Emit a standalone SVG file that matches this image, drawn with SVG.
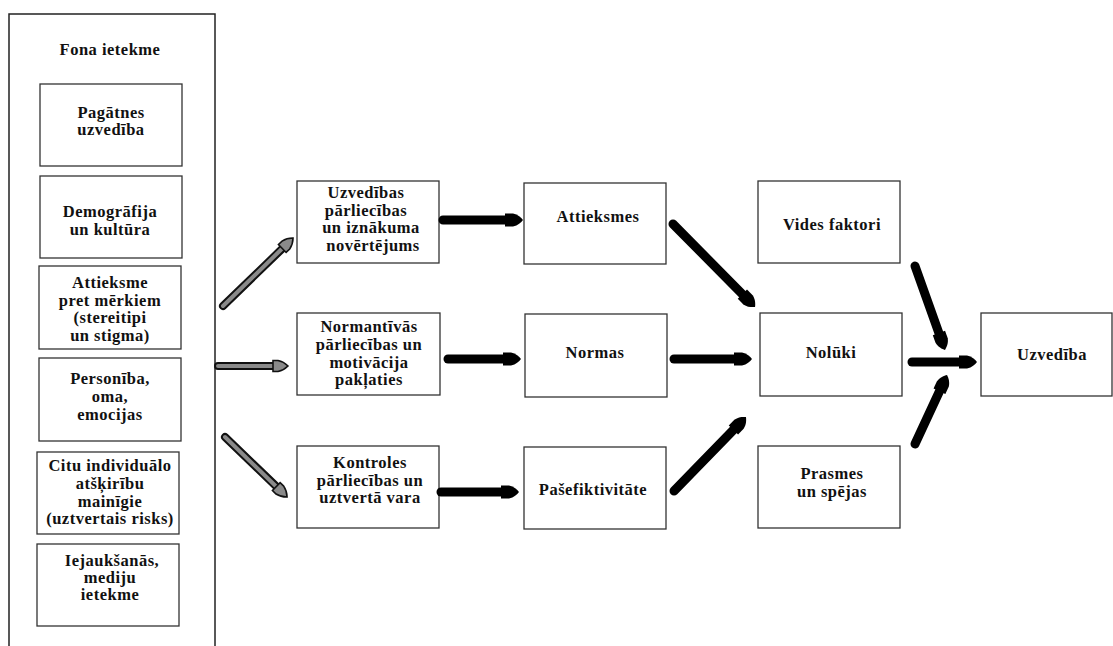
<svg xmlns="http://www.w3.org/2000/svg" width="1113" height="646" viewBox="0 0 1113 646">
<defs>
<style>
.box{fill:#fff;stroke:#333;stroke-width:1.3}
.outer{fill:#fff;stroke:#222;stroke-width:1.5}
.t text{font-size:16.5px;font-weight:bold;fill:#111;text-anchor:middle;letter-spacing:0.5px}
.blk{stroke:#000;stroke-width:9;stroke-linecap:round;fill:none}
.gout{stroke:#111;stroke-width:8;stroke-linecap:round;fill:none}
.gin{stroke:#8a8a8a;stroke-width:4;stroke-linecap:round;fill:none}
</style>
<marker id="hb" markerUnits="userSpaceOnUse" viewBox="-3 -9 22 18" markerWidth="22" markerHeight="18" refX="0" refY="0" orient="auto">
<path d="M-2,-6.5 L6,-6.5 C11,-5.5 14,-2.5 16,0 C14,2.5 11,5.5 6,6.5 L-2,6.5 Z" fill="#000"/>
</marker>
<marker id="hg" markerUnits="userSpaceOnUse" viewBox="-4 -8 22 16" markerWidth="22" markerHeight="16" refX="0" refY="0" orient="auto">
<path d="M-1,-5.5 L4,-5.5 C9,-4.5 12,-2 14,0 C12,2 9,4.5 4,5.5 L-1,5.5 Z" fill="#8a8a8a" stroke="#111" stroke-width="1.6"/>
</marker>
</defs>
<rect width="1113" height="646" fill="#fff"/>
<g class="t" font-family="'Liberation Serif', 'DejaVu Serif', 'Times New Roman', serif">
<g id="fona">
<rect class="outer" x="9" y="14" width="206" height="650"/>
<text x="110" y="55">Fona ietekme</text>
</g>
<g id="pagatnes">
<rect class="box" x="40" y="84" width="142" height="82"/>
<text x="111" y="118">Pagātnes</text>
<text x="111" y="135">uzvedība</text>
</g>
<g id="demografija">
<rect class="box" x="40" y="176" width="142" height="82"/>
<text x="110" y="217">Demogrāfija</text>
<text x="110" y="235">un kultūra</text>
</g>
<g id="attieksme">
<rect class="box" x="39" y="266" width="142" height="83"/>
<text x="110" y="288">Attieksme</text>
<text x="110" y="306">pret mērkiem</text>
<text x="110" y="323">(stereitipi</text>
<text x="110" y="341">un stigma)</text>
</g>
<g id="personiba">
<rect class="box" x="39" y="358" width="142" height="83"/>
<text x="110" y="384">Personība,</text>
<text x="110" y="402">oma,</text>
<text x="110" y="420">emocijas</text>
</g>
<g id="citu">
<rect class="box" x="37" y="452" width="142" height="82"/>
<text x="110" y="471">Citu individuālo</text>
<text x="110" y="489">atšķirību</text>
<text x="110" y="507">mainīgie</text>
<text x="110" y="524">(uztvertais risks)</text>
</g>
<g id="iejauksanas">
<rect class="box" x="37" y="544" width="142" height="82"/>
<text x="112" y="566">Iejaukšanās,</text>
<text x="110" y="583">mediju</text>
<text x="110" y="600">ietekme</text>
</g>

<g id="uzvedibas-parliecibas">
<rect class="box" x="297" y="181" width="142" height="82"/>
<text x="366" y="198">Uzvedības</text>
<text x="366" y="216">pārliecības</text>
<text x="371" y="233">un iznākuma</text>
<text x="373" y="251">novērtējums</text>
</g>
<g id="normativas">
<rect class="box" x="297" y="313" width="143" height="82"/>
<text x="369" y="332">Normantīvās</text>
<text x="369" y="350">pārliecības un</text>
<text x="369" y="368">motivācija</text>
<text x="369" y="385">pakļaties</text>
</g>
<g id="kontroles">
<rect class="box" x="297" y="446" width="142" height="82"/>
<text x="370" y="468">Kontroles</text>
<text x="370" y="486">pārliecības un</text>
<text x="370" y="503">uztvertā vara</text>
</g>

<g id="attieksmes">
<rect class="box" x="524" y="183" width="142" height="81"/>
<text x="598" y="222">Attieksmes</text>
</g>
<g id="normas">
<rect class="box" x="525" y="314" width="142" height="83"/>
<text x="595" y="358">Normas</text>
</g>
<g id="pasefiktivitate">
<rect class="box" x="524" y="447" width="142" height="82"/>
<text x="593" y="495">Pašefiktivitāte</text>
</g>

<g id="vides">
<rect class="box" x="758" y="181" width="142" height="82"/>
<text x="832" y="230">Vides faktori</text>
</g>
<g id="noluki">
<rect class="box" x="760" y="313" width="142" height="83"/>
<text x="831" y="358">Nolūki</text>
</g>
<g id="prasmes">
<rect class="box" x="758" y="446" width="142" height="82"/>
<text x="832" y="479">Prasmes</text>
<text x="832" y="497">un spējas</text>
</g>
<g id="uzvediba">
<rect class="box" x="981" y="313" width="131" height="83"/>
<text x="1052" y="360">Uzvedība</text>
</g>
</g>

<g id="connectors">
<line class="gout" x1="223" y1="306" x2="284" y2="247"/>
<line class="gin" x1="223" y1="306" x2="283" y2="247.8" marker-end="url(#hg)"/>
<line class="gout" x1="218" y1="366" x2="275" y2="366"/>
<line class="gin" x1="218" y1="366" x2="274" y2="366" marker-end="url(#hg)"/>
<line class="gout" x1="225" y1="437" x2="278" y2="488"/>
<line class="gin" x1="225" y1="437" x2="277" y2="487.3" marker-end="url(#hg)"/>

<line class="blk" x1="443" y1="220" x2="507" y2="220" marker-end="url(#hb)"/>
<line class="blk" x1="448" y1="359" x2="505" y2="359" marker-end="url(#hb)"/>
<line class="blk" x1="441" y1="492" x2="503" y2="492" marker-end="url(#hb)"/>

<line class="blk" x1="673" y1="224" x2="743.8" y2="295.6" marker-end="url(#hb)"/>
<line class="blk" x1="674" y1="359" x2="736" y2="359" marker-end="url(#hb)"/>
<line class="blk" x1="674" y1="491" x2="734.8" y2="428.5" marker-end="url(#hb)"/>

<line class="blk" x1="915" y1="266" x2="939.6" y2="334.9" marker-end="url(#hb)"/>
<line class="blk" x1="915" y1="444" x2="940.3" y2="389.5" marker-end="url(#hb)"/>
<line class="blk" x1="912" y1="362" x2="961" y2="362" marker-end="url(#hb)"/>
</g>
</svg>
